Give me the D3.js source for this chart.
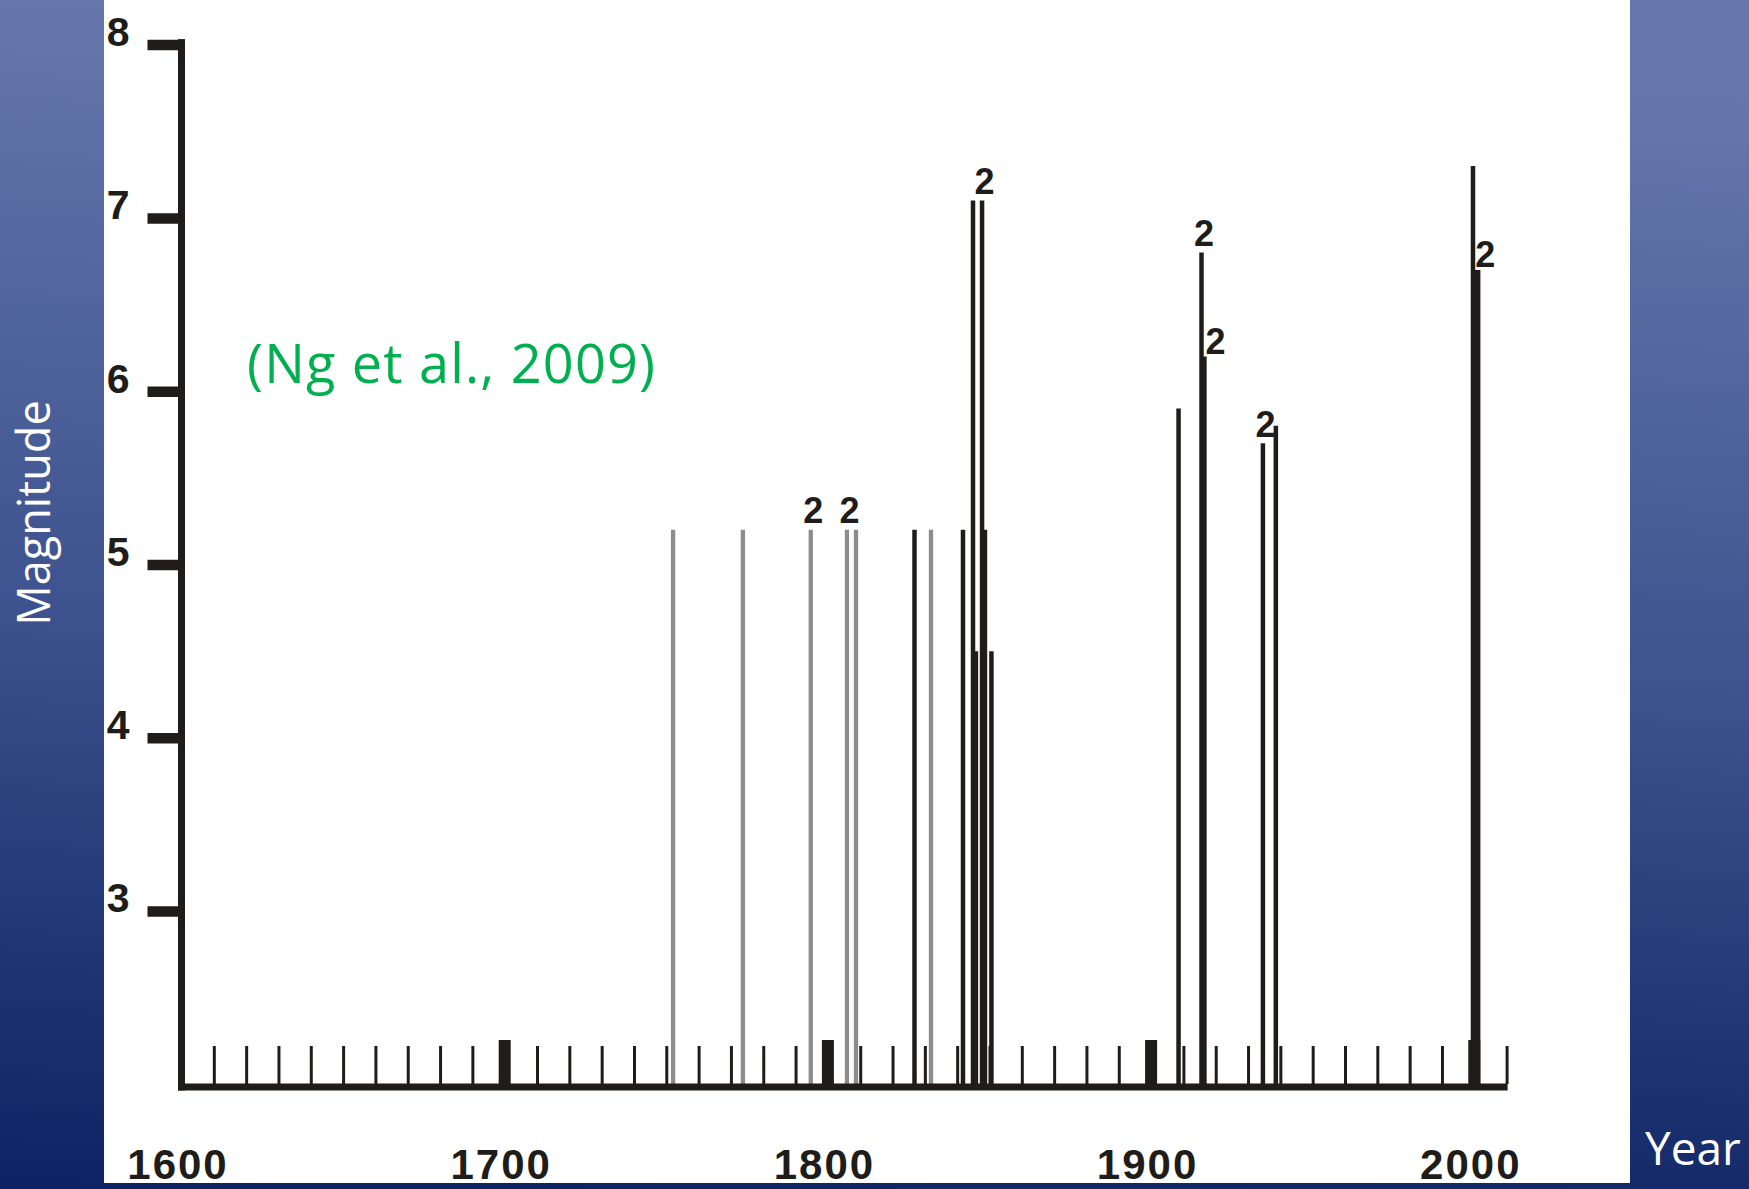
<!DOCTYPE html>
<html>
<head>
<meta charset="utf-8">
<script src="https://cdn.jsdelivr.net/npm/d3@7"></script>
<style>
  html, body { margin: 0; padding: 0; background: #0b2162; }
  svg { display: block; }
</style>
</head>
<body>
<svg id="chart" width="1749" height="1189"></svg>
<script>
// ---- data -------------------------------------------------------------
// Magnitude axis ticks
const magnitudeTicks = [3, 4, 5, 6, 7, 8];
// Year axis: labelled centuries and their text
const centuryYears = [1600, 1700, 1800, 1900, 2000];
const yearLabels = ["1600", "1700", "1800", "1900", "2000"];

// Historical (felt-report) events, drawn in grey
const historicalYears = [1752.1, 1773.7, 1794.7, 1805.9, 1808.7, 1831.9];
const historicalMagnitudes = [5.2, 5.2, 5.2, 5.2, 5.2, 5.2];

// Instrumentally recorded events, drawn in black
const instrumentalYears = [1826.8, 1841.8, 1844.9, 1845.8, 1847.7, 1848.6, 1850.6,
                           1908.5, 1915.6, 1916.5, 1934.6, 1938.6, 1999.6, 2000.0, 2001.2];
const instrumentalMagnitudes = [5.2, 5.2, 7.1, 4.5, 7.1, 5.2, 4.5,
                                5.9, 6.8, 6.2, 5.7, 5.8, 7.3, 6.7, 6.7];

// Events that occurred twice at the same magnitude
const pairedYears = [1794.7, 1805.9, 1847.7, 1915.6, 1916.5, 1934.6, 2000.0];
const pairedMagnitudes = [5.2, 5.2, 7.1, 6.8, 6.2, 5.7, 6.7];
const pairedText = "2";

// ---- layout -----------------------------------------------------------
const W = 1749, H = 1189;
const svg = d3.select("#chart");
const INK = "#201c19";
const GREY = "#8c8c8c";
const numFont = "'Liberation Sans', Arial, sans-serif";
const textFont = "'Open Sans', 'Noto Sans', sans-serif";

const x = d3.scaleLinear().domain([1600, 2010]).range([181.5, 1506.6]);
const y = d3.scaleLinear().domain([2, 8]).range([1084.4, 44.6]);
const axisY = 1084;   // top edge of the year axis line
const axisX = x(1600);

// slide background
const defs = svg.append("defs");
const grad = defs.append("linearGradient")
  .attr("id", "bg").attr("x1", "0.08").attr("y1", "0").attr("x2", "0").attr("y2", "1");
grad.append("stop").attr("offset", "0").attr("stop-color", "#6678ab");
grad.append("stop").attr("offset", "0.5").attr("stop-color", "#3e538f");
grad.append("stop").attr("offset", "1").attr("stop-color", "#0c2262");
svg.append("rect").attr("width", W).attr("height", H).attr("fill", "url(#bg)");

// white plotting panel
svg.append("rect").attr("x", 104).attr("y", 0).attr("width", 1526).attr("height", 1183)
  .attr("fill", "#ffffff");

const plot = svg.append("g");

// decade ticks along the year axis
const decades = d3.range(1610, 2011, 10).filter(d => d % 100 !== 0);
const xTicks = plot.append("g").attr("transform", `translate(0,${axisY})`)
  .call(d3.axisBottom(x).tickValues(decades).tickSize(-38).tickFormat(""));
xTicks.select(".domain").remove();
xTicks.selectAll(".tick line").attr("stroke", INK).attr("stroke-width", 3);

// century blocks
plot.append("g").selectAll("rect")
  .data(centuryYears.filter(d => d > 1600))
  .join("rect")
  .attr("x", d => x(d) - 6).attr("width", 12)
  .attr("y", axisY - 44).attr("height", 44)
  .attr("fill", INK);

// event bars
const historical = historicalYears.map((yr, i) => ({ year: yr, mag: historicalMagnitudes[i] }));
const instrumental = instrumentalYears.map((yr, i) => ({ year: yr, mag: instrumentalMagnitudes[i] }));

plot.append("g").selectAll("line")
  .data(historical).join("line")
  .attr("x1", d => x(d.year)).attr("x2", d => x(d.year))
  .attr("y1", axisY).attr("y2", d => y(d.mag))
  .attr("stroke", GREY).attr("stroke-width", 4.3);

plot.append("g").selectAll("line")
  .data(instrumental).join("line")
  .attr("x1", d => x(d.year)).attr("x2", d => x(d.year))
  .attr("y1", axisY).attr("y2", d => y(d.mag))
  .attr("stroke", INK).attr("stroke-width", 4.5);

// axis lines
plot.append("rect").attr("x", axisX - 3.5).attr("y", axisY - 0.5)
  .attr("width", x(2010) - axisX + 4.5).attr("height", 7).attr("fill", INK);
plot.append("rect").attr("x", axisX - 3.5).attr("y", y(8) - 5.5)
  .attr("width", 7).attr("height", axisY + 6.5 - (y(8) - 5.5)).attr("fill", INK);

// magnitude axis
const yAxisG = plot.append("g").attr("transform", `translate(${axisX},0)`)
  .call(d3.axisLeft(y).tickValues(magnitudeTicks).tickSize(34).tickPadding(18)
        .tickFormat(d3.format("d")));
yAxisG.select(".domain").remove();
yAxisG.selectAll(".tick line").attr("stroke", INK).attr("stroke-width", 10.5);
yAxisG.selectAll(".tick text")
  .attr("dy", "0.02em")
  .attr("fill", INK)
  .style("font-family", numFont).style("font-weight", "bold").style("font-size", "41px");

// year labels
const xLab = plot.append("g").attr("transform", `translate(0,${axisY + 3})`)
  .call(d3.axisBottom(x).tickValues(centuryYears).tickSize(0)
        .tickFormat((d, i) => yearLabels[i]));
xLab.select(".domain").remove();
xLab.selectAll(".tick text")
  .attr("y", 92).attr("dy", 0).attr("dx", -4)
  .attr("fill", INK)
  .style("font-family", numFont).style("font-weight", "bold")
  .style("font-size", "42px").style("letter-spacing", "2px");

// "2" markers for paired events
const all = historical.concat(instrumental);
const paired = pairedYears.map((yr, i) => ({ year: yr, mag: pairedMagnitudes[i] }));
plot.append("g").selectAll("text")
  .data(paired).join("text")
  .each(function (d) {
    // a taller neighbouring bar pushes the marker beside the bar's top
    const beside = all.some(e => Math.abs(e.year - d.year) < 1.5 && e.mag > d.mag);
    d3.select(this)
      .attr("x", x(d.year) + (beside ? 1 : 2.5))
      .attr("y", y(d.mag) - (beside ? 3 : 6.5))
      .attr("text-anchor", beside ? "start" : "middle");
  })
  .attr("fill", INK)
  .style("font-family", numFont).style("font-weight", "bold").style("font-size", "36px")
  .text(pairedText);

// citation
svg.append("text")
  .attr("x", 247).attr("y", 383)
  .attr("textLength", 408)
  .attr("fill", "#00b050")
  .style("font-family", textFont).style("font-size", "54px")
  .text("(Ng et al., 2009)");

// axis titles on the slide background
svg.append("text")
  .attr("transform", "translate(50,513) rotate(-90)")
  .attr("text-anchor", "middle")
  .attr("fill", "#ffffff")
  .style("font-family", textFont).style("font-size", "45px")
  .text("Magnitude");

svg.append("text")
  .attr("x", 1645).attr("y", 1165)
  .attr("fill", "#ffffff")
  .style("font-family", textFont).style("font-size", "46px")
  .text("Year");
</script>
</body>
</html>
